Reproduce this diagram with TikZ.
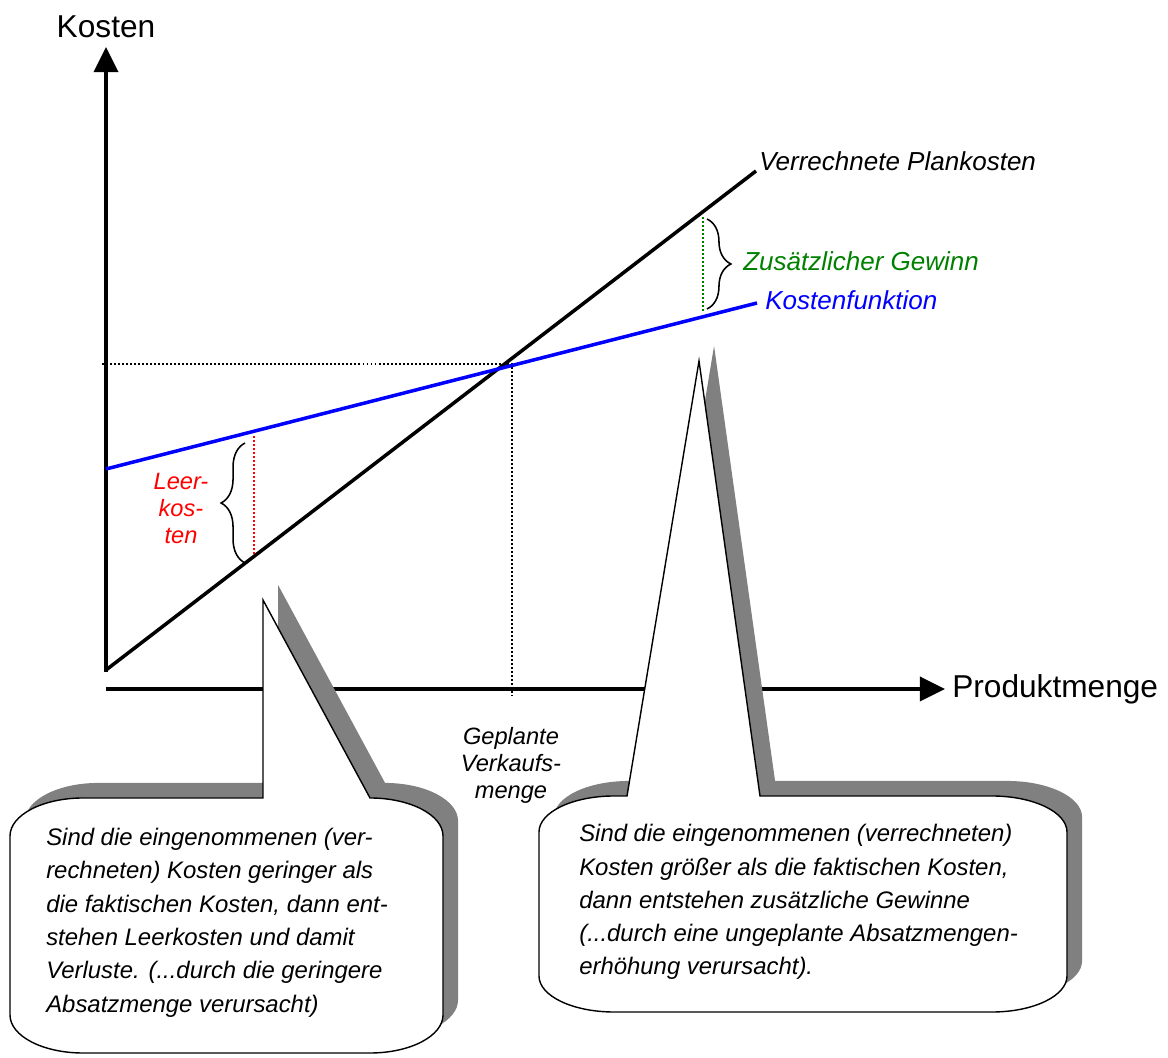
\documentclass[tikz,border=0pt]{standalone}
\usepackage{fontspec}
\setmainfont{Liberation Sans}
\usetikzlibrary{positioning,arrows.meta,decorations.pathreplacing,shadows}
\definecolor{costblue}{RGB}{0,0,255}
\definecolor{lossred}{RGB}{255,0,0}
\definecolor{gaingreen}{RGB}{0,128,0}
\definecolor{shadowgray}{RGB}{128,128,128}

\begin{document}
\begin{tikzpicture}[
  x=0.025cm, y=0.025cm,
  axis/.style={line width=2.8pt,-{Triangle[length=17.8pt,width=17pt]}},
  curve/.style={line width=2.5pt},
  dotline/.style={line width=1.3pt,dash pattern=on 1.4pt off 1.45pt},
  bracket/.style={decorate,decoration={brace,amplitude=17pt},line width=1.1pt},
  lbl/.style={font=\fontsize{18.5}{22}\selectfont\itshape,inner sep=0pt},
  axlbl/.style={font=\fontsize{22.5}{26}\selectfont,inner sep=1pt},
  smalllbl/.style={font=\fontsize{16.8}{19.2}\selectfont\itshape,align=center,inner sep=0pt},
  callout/.style={draw=black,line width=1pt,fill=white,
    drop shadow={shadow xshift=10.7pt,shadow yshift=10.7pt,fill=shadowgray,opacity=1}},
  callouttext/.style={font=\fontsize{17}{23.7}\selectfont\itshape,align=left,inner sep=0pt,anchor=base west}
]
\useasboundingbox (0,0) rectangle (1168,1057);

% axes
\coordinate (yfoot) at (106,385);
\coordinate (ytip) at (106,1010);
\coordinate (xfoot) at (106,368);
\coordinate (xtip) at (945,368);
\draw[axis] (yfoot) -- (ytip);
\draw[axis] (xfoot) -- (xtip);
\node[axlbl,above=5pt of ytip] (kosten) {Kosten};
\node[axlbl,right=4pt of xtip] (menge) {Produktmenge};

% planned sales volume
\coordinate (breakeven) at (512,693);
\coordinate (beY) at (102,693);
\coordinate (beX) at (512,361);
\draw[dotline] (beY) -- (breakeven) -- (beX);

% cost lines
\coordinate (plan0) at (106,387);
\coordinate (plan1) at (756,886);
\coordinate (cost0) at (106,588);
\coordinate (cost1) at (757,754);
\draw[curve] (plan0) -- (plan1);
\draw[curve,costblue] (cost0) -- (cost1);
\node[lbl,anchor=base west] (planlbl) at (759,886) {Verrechnete Plankosten};
\node[lbl,anchor=base west,text=costblue] (costlbl) at (765,747) {Kostenfunktion};

% idle costs
\coordinate (leertop) at (254,621);
\coordinate (leerbot) at (254,501);
\draw[dotline,lossred] (leertop) -- (leerbot);
\draw[bracket] (245,494) -- (245,614);
\node[smalllbl,text=lossred] (leer) at (181,549) {Leer-\\kos-\\ten};

% extra profit
\coordinate (gewtop) at (703,840);
\coordinate (gewbot) at (703,745);
\draw[dotline,gaingreen] (gewtop) -- (gewbot);
\draw[bracket] (707,838) -- (707,748);
\node[lbl,anchor=base west,text=gaingreen] (gewlbl) at (743,786) {Zusätzlicher Gewinn};

\node[smalllbl] (geplant) at (511,292) {Geplante\\Verkaufs-\\menge};

% callouts
\draw[callout] (263,259) -- (263,457) -- (370,259)
  arc[start angle=90,end angle=0,x radius=73,y radius=38] -- (443,42)
  arc[start angle=0,end angle=-90,x radius=73,y radius=38] -- (83,4)
  arc[start angle=270,end angle=180,x radius=73,y radius=38] -- (10,221)
  arc[start angle=180,end angle=90,x radius=73,y radius=38] -- cycle;
\draw[callout] (627,261) -- (699,696) -- (760,261) -- (992,261)
  arc[start angle=90,end angle=0,x radius=75,y radius=36] -- (1067,81)
  arc[start angle=0,end angle=-90,x radius=75,y radius=36] -- (614,45)
  arc[start angle=270,end angle=180,x radius=75,y radius=36] -- (539,225)
  arc[start angle=180,end angle=90,x radius=75,y radius=36] -- cycle;

% base anchor sits on the last line
\node[callouttext] (verlust) at (46,45)
  {Sind die eingenommenen (ver-\\rechneten) Kosten geringer als\\die faktischen Kosten, dann ent-\\stehen Leerkosten und damit\\Verluste. (...durch die geringere\\Absatzmenge verursacht)};
\node[callouttext] (gewinn) at (579,82)
  {Sind die eingenommenen (verrechneten)\\Kosten größer als die faktischen Kosten,\\dann entstehen zusätzliche Gewinne\\(...durch eine ungeplante Absatzmengen-\\erhöhung verursacht).};
\end{tikzpicture}
\end{document}
